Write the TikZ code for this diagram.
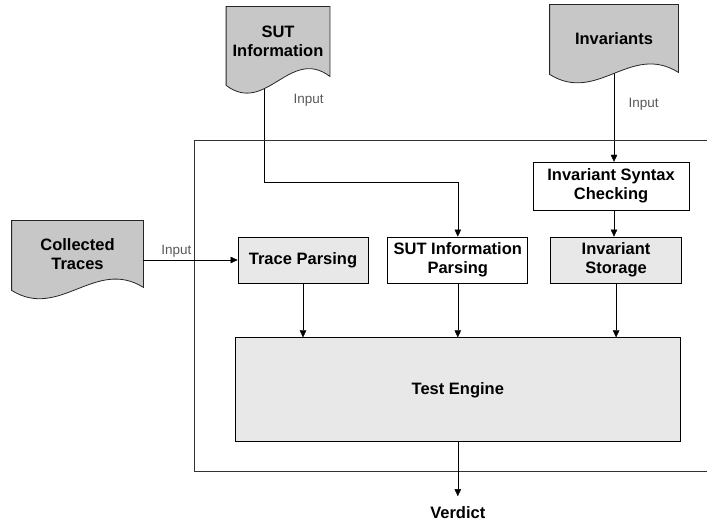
\documentclass[tikz,border=0pt]{standalone}
\usepackage{fontspec}
\setmainfont{Liberation Sans}
\usepackage{tikz}
\usetikzlibrary{arrows.meta, positioning}
\usepackage{xcolor}

\pgfdeclarelayer{background}
\pgfsetlayers{background,main}

\definecolor{docgray}{gray}{0.78}
\definecolor{boxgray}{gray}{0.91}

% document outline with a wavy bottom, drawn round a node
\newcommand{\docshape}[3]{%
  \filldraw[fill=docgray, draw=black!85, line width=0.8pt]
    (#1.north west) -- (#1.north east) -- (#1.south east)
    .. controls +(-#2,-30) and +(#2,30) .. ([yshift=-#3]#1.south west) -- cycle;}

\begin{document}
\begin{tikzpicture}[x=1pt, y=-1pt, >={Triangle[length=7pt,width=6.5pt]}, line width=0.8pt]
    \tikzstyle{doc}=[align=center, inner sep=0pt, font=\bfseries\fontsize{16.5}{19}\selectfont]
    \tikzstyle{block}=[draw, align=center, inner sep=0pt, font=\bfseries\fontsize{16.5}{19}\selectfont]
    \tikzstyle{lbl}=[text=black!65, font=\fontsize{13.5}{16}\selectfont]

    \useasboundingbox (0,0) rectangle (707,521);

    \node[doc, minimum width=131pt, minimum height=66pt] (traces) at (77.5,254) {Collected\\Traces};
    \node[doc, minimum width=103pt, minimum height=69pt] (sutdoc) at (278,41.5) {SUT\\Information};
    \node[doc, minimum width=128pt, minimum height=67pt] (invdoc) at (614,38.5) {Invariants};

    \node[block, fill=boxgray, minimum width=130pt, minimum height=46pt] (trace) at (303,260) {Trace Parsing};
    \node[block, minimum width=140pt, minimum height=46pt, right=19pt of trace] (sutparse) {SUT Information\\Parsing};
    \node[block, fill=boxgray, minimum width=131pt, minimum height=46pt, right=22pt of sutparse] (storage) {Invariant\\Storage};
    \node[block, minimum width=156pt, minimum height=48pt, above=26pt of storage, xshift=-5pt] (syntax) {Invariant Syntax\\Checking};
    \node[block, fill=boxgray, minimum width=445pt, minimum height=104pt, below=54pt of sutparse] (engine) {Test Engine};
    \node[doc, inner sep=2pt, below=62pt of engine] (verdict) {Verdict};

    \begin{pgfonlayer}{background}
    \draw[->] ([xshift=-14pt]sutdoc.center) -- node[lbl, pos=0.42, right=26pt] {Input} ++(0,140.5) -| (sutparse.north);
    \draw[->] (invdoc.center) -- node[lbl, pos=0.53, right=11pt] {Input} (invdoc.center |- syntax.north);
    \docshape{traces}{48}{3pt}
    \docshape{sutdoc}{40}{9pt}
    \docshape{invdoc}{48}{2pt}
    \draw[black!80, line width=0.7pt] (707,140) -- (194,140) -- (194,471) -- (707,471);
    \end{pgfonlayer}

    \path[every edge/.style={draw,->}]
    (traces.east |- trace.west) edge node[lbl, pos=0.35, above, inner sep=2pt] {Input} (trace.west)
    (syntax.south -| invdoc.center) edge (storage.north -| invdoc.center)
    (trace) edge (trace |- engine.north)
    (sutparse) edge (sutparse |- engine.north)
    (storage) edge (storage |- engine.north)
    (engine) edge[shorten >=8pt] (verdict)
    ;

\end{tikzpicture}
\end{document}
